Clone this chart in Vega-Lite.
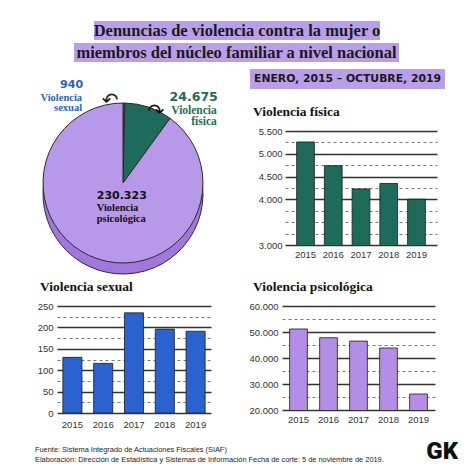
{
  "$schema": "https://vega.github.io/schema/vega-lite/v6.json",
  "background": "white",
  "padding": 0,
  "datasets": {
    "pie": [
      {"cat": "Violencia sexual", "value": 940},
      {"cat": "Violencia física", "value": 24675},
      {"cat": "Violencia psicológica", "value": 230323}
    ],
    "fisica": [
      {"year": 2015, "count": 5260},
      {"year": 2016, "count": 4740},
      {"year": 2017, "count": 4230},
      {"year": 2018, "count": 4350},
      {"year": 2019, "count": 4005}
    ],
    "sexual": [
      {"year": 2015, "count": 130},
      {"year": 2016, "count": 116},
      {"year": 2017, "count": 234},
      {"year": 2018, "count": 196},
      {"year": 2019, "count": 191}
    ],
    "psico": [
      {"year": 2015, "count": 51150},
      {"year": 2016, "count": 47800},
      {"year": 2017, "count": 46500},
      {"year": 2018, "count": 43850},
      {"year": 2019, "count": 26150}
    ]
  },
  "spacing": 0,
  "vconcat": [
    {"width": 1, "height": 21, "data": {"values": []}, "mark": "point"},
    {
      "spacing": 0,
      "hconcat": [
        {"width": 93, "height": 19, "data": {"values": []}, "mark": "point"},
        {
          "width": 286, "height": 19,
          "view": {"fill": "#b99fe9", "stroke": null},
          "data": {"values": [{}]},
          "mark": {"type": "text", "font": "Liberation Serif", "fontWeight": "bold", "fontSize": 16.5, "color": "#1a1a1a", "baseline": "middle", "align": "center"},
          "encoding": {"text": {"value": "Denuncias de violencia contra la mujer o"}}
        }
      ]
    },
    {"width": 1, "height": 3, "data": {"values": []}, "mark": "point"},
    {
      "spacing": 0,
      "hconcat": [
        {"width": 74, "height": 19, "data": {"values": []}, "mark": "point"},
        {
          "width": 325, "height": 19,
          "view": {"fill": "#b99fe9", "stroke": null},
          "data": {"values": [{}]},
          "mark": {"type": "text", "font": "Liberation Serif", "fontWeight": "bold", "fontSize": 16.5, "color": "#1a1a1a", "baseline": "middle", "align": "center"},
          "encoding": {"text": {"value": "miembros del núcleo familiar a nivel nacional"}}
        }
      ]
    },
    {"width": 1, "height": 7, "data": {"values": []}, "mark": "point"},
    {
      "spacing": 0,
      "hconcat": [
        {
          "width": 246, "height": 205,
          "data": {"name": "pie"},
          "layer": [
            {
              "mark": {"type": "arc", "radius": 80, "yOffset": 22.5, "fill": "#a077dd", "stroke": "#2b2b2b", "strokeWidth": 1},
              "encoding": {
                "theta": {"field": "value", "type": "quantitative", "stack": true},
                "order": {"field": "value", "sort": "ascending"}
              }
            },
            {
              "mark": {"type": "arc", "radius": 80, "yOffset": 11.5, "stroke": "#2b2b2b", "strokeWidth": 1},
              "encoding": {
                "theta": {"field": "value", "type": "quantitative", "stack": true},
                "order": {"field": "value", "sort": "ascending"},
                "color": {
                  "field": "cat", "type": "nominal", "legend": null,
                  "scale": {"domain": ["Violencia sexual", "Violencia física", "Violencia psicológica"], "range": ["#2c5fbd", "#1f6b5b", "#b898e8"]}
                }
              }
            },
            {
              "transform": [{"filter": "datum.cat === 'Violencia sexual'"}],
              "layer": [
                {
                  "mark": {"type": "text", "radius": 92, "align": "right", "baseline": "middle", "dx": -41, "dy": 5, "font": "DejaVu Sans", "fontWeight": "bold", "fontSize": 11, "color": "#2a62c9"},
                  "encoding": {
                    "theta": {"field": "value", "type": "quantitative", "stack": true},
                    "text": {"field": "value", "type": "quantitative", "format": ",d"}
                  }
                },
                {
                  "mark": {"type": "text", "radius": 92, "align": "right", "baseline": "top", "dx": -42, "dy": 13.5, "lineHeight": 9.5, "font": "Liberation Serif", "fontWeight": "bold", "fontSize": 10.5, "color": "#2a62c9"},
                  "encoding": {
                    "theta": {"field": "value", "type": "quantitative", "stack": true},
                    "text": {"value": ["Violencia", "sexual"]}
                  }
                },
                {
                  "mark": {"type": "text", "radius": 92, "align": "center", "baseline": "middle", "dx": -14, "dy": 21, "font": "DejaVu Sans", "fontSize": 20, "color": "#222222"},
                  "encoding": {
                    "theta": {"field": "value", "type": "quantitative", "stack": true},
                    "text": {"value": "↶"}
                  }
                }
              ]
            },
            {
              "transform": [{"filter": "datum.cat === 'Violencia física'"}],
              "layer": [
                {
                  "mark": {"type": "text", "radius": 100, "align": "right", "baseline": "middle", "dx": 65, "dy": 21, "font": "DejaVu Sans", "fontWeight": "bold", "fontSize": 12.5, "color": "#1f6b5b"},
                  "encoding": {
                    "theta": {"field": "value", "type": "quantitative", "stack": true},
                    "text": {"field": "value", "type": "quantitative", "format": ",d"}
                  }
                },
                {
                  "mark": {"type": "text", "radius": 100, "align": "right", "baseline": "top", "dx": 64, "dy": 29, "lineHeight": 11, "font": "Liberation Serif", "fontWeight": "bold", "fontSize": 11.5, "color": "#1f6b5b"},
                  "encoding": {
                    "theta": {"field": "value", "type": "quantitative", "stack": true},
                    "text": {"value": ["Violencia", "física"]}
                  }
                },
                {
                  "mark": {"type": "text", "radius": 100, "align": "center", "baseline": "middle", "dx": 3, "dy": 36, "font": "DejaVu Sans", "fontSize": 20, "color": "#111111"},
                  "encoding": {
                    "theta": {"field": "value", "type": "quantitative", "stack": true},
                    "text": {"value": "↷"}
                  }
                }
              ]
            },
            {
              "transform": [{"filter": "datum.cat === 'Violencia psicológica'"}],
              "layer": [
                {
                  "mark": {"type": "text", "radius": 25, "align": "left", "baseline": "middle", "dx": -34, "dy": 1, "font": "DejaVu Sans", "fontWeight": "bold", "fontSize": 11, "color": "#111111"},
                  "encoding": {
                    "theta": {"field": "value", "type": "quantitative", "stack": true},
                    "text": {"field": "value", "type": "quantitative", "format": ",d"}
                  }
                },
                {
                  "mark": {"type": "text", "radius": 25, "align": "left", "baseline": "top", "dx": -34, "dy": 8, "lineHeight": 10.5, "font": "Liberation Serif", "fontWeight": "bold", "fontSize": 10.5, "color": "#111111"},
                  "encoding": {
                    "theta": {"field": "value", "type": "quantitative", "stack": true},
                    "text": {"value": ["Violencia", "psicológica"]}
                  }
                }
              ]
            }
          ]
        },
        {"width": 4, "height": 1, "data": {"values": []}, "mark": "point"},
        {
          "spacing": 0,
          "vconcat": [
            {
              "width": 195, "height": 20,
              "view": {"fill": "#b99fe9", "stroke": null},
              "data": {"values": [{}]},
              "mark": {"type": "text", "font": "DejaVu Sans", "fontWeight": "bold", "fontSize": 10.8, "color": "#1a1a1a", "baseline": "middle", "align": "center"},
              "encoding": {"text": {"value": "ENERO, 2015 – OCTUBRE, 2019"}}
            },
            {"width": 1, "height": 15, "data": {"values": []}, "mark": "point"},
            {
              "spacing": 0,
              "hconcat": [
                {"width": 3, "height": 1, "data": {"values": []}, "mark": "point"},
                {
                  "width": 152, "height": 114,
                  "data": {"name": "fisica"},
                  "title": {"text": "Violencia física", "anchor": "start", "frame": "group", "dx": -32, "offset": 8, "font": "Liberation Serif", "fontSize": 13.5, "fontWeight": "bold", "color": "#111111"},
                  "mark": {"type": "bar", "color": "#1f6b5b", "stroke": "#1a1a1a", "strokeWidth": 0.8, "clip": true},
                  "encoding": {
                    "x": {"field": "year", "type": "ordinal", "title": null, "scale": {"paddingInner": 0.36, "paddingOuter": 0.42}, "axis": {"labelAngle": 0, "labelPadding": 4}},
                    "y": {
                      "field": "count", "type": "quantitative", "title": null,
                      "scale": {"domain": [3000, 5500], "zero": false, "nice": false},
                      "axis": {
                        "values": [3000, 3250, 3500, 3750, 4000, 4250, 4500, 4750, 5000, 5250, 5500],
                        "format": ",d",
                        "labelExpr": "datum.value % 500 === 0 && datum.value !== 3500 ? datum.label : ''",
                        "grid": true,
                        "gridDash": {"condition": {"test": "datum.value % 500 !== 0 || datum.value === 3500", "value": [3, 3]}, "value": []},
                        "gridWidth": {"condition": {"test": "datum.value % 500 !== 0 || datum.value === 3500", "value": 1}, "value": 1.6},
                        "gridColor": {"condition": {"test": "datum.value % 500 !== 0 || datum.value === 3500", "value": "#777777"}, "value": "#333333"},
                        "labelPadding": 3
                      }
                    }
                  }
                }
              ]
            }
          ]
        }
      ]
    },
    {"width": 1, "height": 3, "data": {"values": []}, "mark": "point"},
    {
      "spacing": 0,
      "hconcat": [
        {"width": 37, "height": 1, "data": {"values": []}, "mark": "point"},
        {
          "width": 154, "height": 107,
          "data": {"name": "sexual"},
          "title": {"text": "Violencia sexual", "anchor": "start", "frame": "group", "dx": -17, "offset": 8, "font": "Liberation Serif", "fontSize": 13.5, "fontWeight": "bold", "color": "#111111"},
          "mark": {"type": "bar", "color": "#2a62cf", "stroke": "#1a1a1a", "strokeWidth": 0.8, "clip": true},
          "encoding": {
            "x": {"field": "year", "type": "ordinal", "title": null, "scale": {"paddingInner": 0.38, "paddingOuter": 0.19}, "axis": {"labelAngle": 0, "labelPadding": 6}},
            "y": {
              "field": "count", "type": "quantitative", "title": null,
              "scale": {"domain": [0, 250], "nice": false},
              "axis": {
                "values": [0, 25, 50, 75, 100, 125, 150, 175, 200, 225, 250],
                "format": ",d",
                "labelExpr": "datum.value % 50 === 0 ? datum.label : ''",
                "grid": true,
                "gridDash": {"condition": {"test": "datum.value % 50 !== 0", "value": [3, 3]}, "value": []},
                "gridWidth": {"condition": {"test": "datum.value % 50 !== 0", "value": 1}, "value": 1.6},
                "gridColor": {"condition": {"test": "datum.value % 50 !== 0", "value": "#777777"}, "value": "#333333"},
                "labelPadding": 4
              }
            }
          }
        },
        {"width": 37, "height": 1, "data": {"values": []}, "mark": "point"},
        {
          "width": 153, "height": 104,
          "data": {"name": "psico"},
          "title": {"text": "Violencia psicológica", "anchor": "start", "frame": "group", "dx": -29, "offset": 8, "font": "Liberation Serif", "fontSize": 13.5, "fontWeight": "bold", "color": "#111111"},
          "mark": {"type": "bar", "color": "#b48ee6", "stroke": "#1a1a1a", "strokeWidth": 0.8, "clip": true},
          "encoding": {
            "x": {"field": "year", "type": "ordinal", "title": null, "scale": {"paddingInner": 0.41, "paddingOuter": 0.255}, "axis": {"labelAngle": 0, "labelPadding": 4}},
            "y": {
              "field": "count", "type": "quantitative", "title": null,
              "scale": {"domain": [20000, 60000], "zero": false, "nice": false},
              "axis": {
                "values": [20000, 25000, 30000, 35000, 40000, 45000, 50000, 55000, 60000],
                "format": ",d",
                "labelExpr": "datum.value % 10000 === 0 ? datum.label : ''",
                "grid": true,
                "gridDash": {"condition": {"test": "datum.value % 10000 !== 0", "value": [3, 3]}, "value": []},
                "gridWidth": {"condition": {"test": "datum.value % 10000 !== 0", "value": 1}, "value": 1.6},
                "gridColor": {"condition": {"test": "datum.value % 10000 !== 0", "value": "#777777"}, "value": "#333333"},
                "labelPadding": 4
              }
            }
          }
        }
      ]
    },
    {"width": 1, "height": 10, "data": {"values": []}, "mark": "point"},
    {
      "spacing": 0,
      "hconcat": [
        {"width": 35, "height": 1, "data": {"values": []}, "mark": "point"},
        {
          "width": 423, "height": 22,
          "data": {"values": [{}]},
          "layer": [
            {
              "mark": {"type": "text", "align": "left", "baseline": "middle", "font": "Liberation Sans", "fontSize": 7.4, "lineHeight": 9.5, "color": "#222222"},
              "encoding": {
                "x": {"datum": 0, "type": "quantitative", "scale": {"domain": [0, 1], "nice": false}, "axis": null},
                "text": {"value": ["Fuente: Sistema Integrado de Actuaciones Fiscales (SIAF)", "Elaboración: Dirección de Estadística y Sistemas de Información  Fecha de corte: 5 de noviembre de 2019."]}
              }
            },
            {
              "mark": {"type": "text", "align": "right", "baseline": "middle", "dy": 2, "font": "Roboto", "fontWeight": 900, "fontSize": 24, "color": "#111111"},
              "encoding": {
                "x": {"datum": 1, "type": "quantitative", "scale": {"domain": [0, 1], "nice": false}, "axis": null},
                "text": {"value": "GK"}
              }
            }
          ]
        }
      ]
    }
  ],
  "config": {
    "view": {"stroke": null},
    "font": "Liberation Sans",
    "locale": {"number": {"decimal": ",", "thousands": ".", "grouping": [3], "currency": ["$", ""]}},
    "axis": {"domain": false, "ticks": false, "labelFont": "Liberation Sans", "labelFontSize": 9.5, "labelColor": "#333333"},
    "axisX": {"grid": false}
  }
}
